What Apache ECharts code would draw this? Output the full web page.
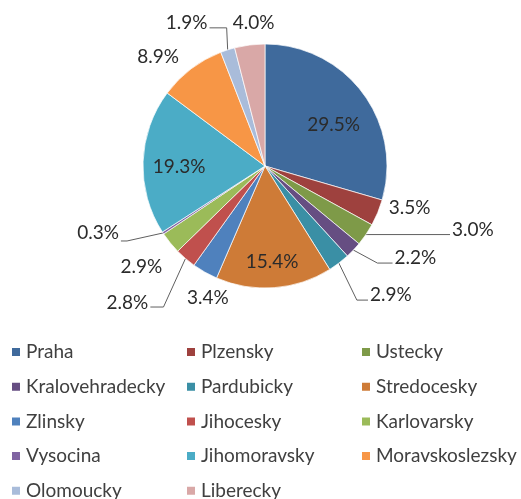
<!DOCTYPE html>
<html><head><meta charset="utf-8">
<script src="https://cdn.jsdelivr.net/npm/echarts@6/dist/echarts.min.js"></script>
<style>html,body{margin:0;padding:0;background:#fff}#chart{width:521px;height:499px}</style>
</head><body><div id="chart"></div>
<script>
// ---- data ----
const categories = ['Praha','Plzensky','Ustecky','Kralovehradecky','Pardubicky','Stredocesky','Zlinsky','Jihocesky','Karlovarsky','Vysocina','Jihomoravsky','Moravskoslezsky','Olomoucky','Liberecky'];
const shares = [29.5, 3.5, 3.0, 2.2, 2.9, 15.4, 3.4, 2.8, 2.9, 0.3, 19.3, 8.9, 1.9, 4.0];

// ---- style ----
const colors = ['#3F6A9C','#9E413E','#7E9A48','#664E82','#3A8FA5','#CE7B37','#4F81BD','#C0504D','#9BBB59','#8064A2','#4BACC6','#F79646','#A9BCDA','#D9A8A7'];
const CX = 265, CY = 166, R = 122;
const FONT = 'Lato';
// label centre offset from the outer mid-arc point of each slice
const labelOffsets = [[-29,32],[32,-5],[107,-5],[62,8],[52,32],[-2,-26],[3,26],[-58,44.5],[-29,24],[-65,0],[36,5],[-33,-12],[-41,-27],[4,-22]];
// elbow of leader lines (offset from outer mid-arc point)
const leaderElbows = {2:[2,0], 3:[24,13], 4:[18,37], 7:[-22,48.5], 9:[-36,8], 12:[-1,-22]};

const total = shares.reduce((a, b) => a + b, 0);
function edgePoint(i) {
  let before = 0;
  for (let k = 0; k < i; k++) before += shares[k];
  const mid = (before + shares[i] / 2) / total * 2 * Math.PI;
  return [CX + R * Math.sin(mid), CY - R * Math.cos(mid)];
}

const chart = echarts.init(document.getElementById('chart'), null, {renderer: 'canvas'});
const legendLefts = [10, 185, 360];
chart.setOption({
  animation: false,
  color: colors,
  legend: legendLefts.map((left, c) => ({
    orient: 'vertical', left: left, top: 342, height: 200, padding: 0,
    itemWidth: 10, itemHeight: 10, itemGap: 14.7, icon: 'rect',
    selectedMode: false,
    data: categories.filter((_, i) => i % 3 === c),
    textStyle: {fontFamily: FONT, fontSize: 19, color: '#404040', lineHeight: 20}
  })),
  series: [{
    type: 'pie',
    center: [CX, CY],
    radius: R,
    startAngle: 90,
    clockwise: true,
    avoidLabelOverlap: false,
    emphasis: {disabled: true},
    itemStyle: {borderColor: '#ffffff', borderWidth: 0.7},
    label: {
      show: true, position: 'outside',
      fontFamily: FONT, fontSize: 19, color: '#2b2b2b',
      formatter: p => p.value.toFixed(1) + '%'
    },
    labelLine: {show: false, lineStyle: {color: '#5f5f5f', width: 1}},
    labelLayout: function (p) {
      const i = p.dataIndex;
      const e = edgePoint(i);
      const off = labelOffsets[i];
      const x = e[0] + off[0], y = e[1] + off[1];
      const res = {x: x, y: y, align: 'center', verticalAlign: 'middle'};
      const el = leaderElbows[i];
      if (el) {
        const ex = e[0] + el[0], ey = e[1] + el[1];
        const half = p.labelRect.width / 2;
        const endX = off[0] > 0 ? x - half - 2 : x + half + 2;
        res.labelLinePoints = [[e[0], e[1]], [ex, ey], [endX, ey]];
      }
      return res;
    },
    data: categories.map((name, i) => ({
      name: name, value: shares[i],
      labelLine: {show: leaderElbows[i] !== undefined}
    }))
  }]
});
</script></body></html>
